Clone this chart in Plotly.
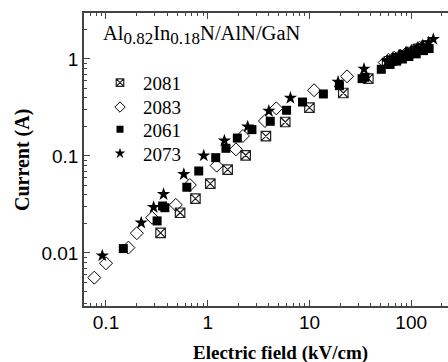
import plotly.graph_objects as go
import math

# Sample 2081 (crossed square)
x_2081 = [0.344, 0.535, 0.757, 1.06, 1.57, 2.36, 3.73, 5.78, 10.0, 21.5, 37.9,
          58, 64, 72, 85, 100, 118, 140]
y_2081 = [0.0161, 0.026, 0.0363, 0.0518, 0.0723, 0.1017, 0.16, 0.224, 0.315, 0.446, 0.627,
          0.90, 0.96, 1.02, 1.10, 1.18, 1.27, 1.37]

# Sample 2083 (open diamond)
x_2083 = [0.0768, 0.1, 0.166, 0.201, 0.284, 0.486, 0.667, 1.225, 1.894, 2.22, 3.65, 4.72, 11.1, 23.4,
          55, 60, 68, 78, 90, 105, 120]
y_2083 = [0.00556, 0.00783, 0.01135, 0.016, 0.0231, 0.0313, 0.0502, 0.0795, 0.117, 0.161, 0.2296, 0.31, 0.476, 0.663,
          0.92, 0.98, 1.03, 1.08, 1.15, 1.22, 1.30]

# Sample 2061 (filled square)
x_2061 = [0.148, 0.318, 0.36, 0.379, 0.623, 0.816, 1.198, 1.51, 1.955, 2.72, 4.12, 5.96, 8.54, 13.7, 19.7,
          32.9, 35.1, 50.8, 62, 72, 82, 95, 112, 132, 150]
y_2061 = [0.0111, 0.0214, 0.0305, 0.0293, 0.0476, 0.070, 0.0961, 0.12, 0.153, 0.187, 0.228, 0.296, 0.36, 0.436, 0.531,
          0.627, 0.648, 0.783, 0.88, 0.95, 1.00, 1.06, 1.13, 1.22, 1.28]

# Sample 2073 (star)
x_2073 = [0.092, 0.222, 0.294, 0.368, 0.582, 0.914, 1.458, 2.47, 3.99, 6.5, 19.1, 34.4,
          58, 66, 76, 88, 100, 115, 130, 148, 165]
y_2073 = [0.00938, 0.0205, 0.0296, 0.0403, 0.0648, 0.1007, 0.144, 0.2005, 0.291, 0.396, 0.579, 0.789,
          0.95, 1.02, 1.08, 1.15, 1.22, 1.30, 1.38, 1.48, 1.60]

series_names = ["2081", "2083", "2061", "2073"]

SERIF = "Liberation Serif"
SANS = "Liberation Sans"

# plot area in pixels
L, R, T, B = 84, 448, 13, 306
W, H = R - L, B - T


def px_x(p):
    return (p - L) / W


def px_y(p):
    return (B - p) / H


styles = {
    "2081": dict(symbol="square-x-open", color="#222", line=dict(width=1.2, color="#222")),
    "2083": dict(symbol="diamond-open", color="black", line=dict(width=1, color="black")),
    "2061": dict(symbol="square", color="black", line=dict(width=0)),
    "2073": dict(symbol="star", color="black", line=dict(width=0)),
}
plot_sizes = {"2081": 9.5, "2083": 10, "2061": 9, "2073": 10}
legend_sizes = {"2081": 7.5, "2083": 8, "2061": 7, "2073": 8}
data = {"2081": (x_2081, y_2081), "2083": (x_2083, y_2083),
        "2061": (x_2061, y_2061), "2073": (x_2073, y_2073)}
legend_ids = {"2081": "legend", "2083": "legend2", "2061": "legend3", "2073": "legend4"}
legend_centers = {"2081": 82.3, "2083": 106.7, "2061": 128.8, "2073": 153.0}

fig = go.Figure()
for name in series_names:
    xs, ys = data[name]
    fig.add_trace(go.Scatter(x=xs, y=ys, mode="markers", name=name, showlegend=False,
                             legendgroup=name,
                             marker=dict(size=plot_sizes[name], **styles[name])))
# legend entries with smaller symbols, as in the reference
for name in series_names:
    fig.add_trace(go.Scatter(x=[None], y=[None], mode="markers", name=name, showlegend=True,
                             legendgroup=name, legend=legend_ids[name],
                             marker=dict(size=legend_sizes[name], **styles[name])))

axis_common = dict(
    type="log", dtick=1, ticks="inside", ticklen=6, tickwidth=1, tickcolor="#444",
    showline=True, linecolor="#444", linewidth=1.5,
    showgrid=False, zeroline=False, automargin=False,
    tickfont=dict(family=SANS, size=19, color="black"),
    minor=dict(ticks="inside", ticklen=3, tickcolor="#444", dtick="D1", showgrid=False),
)

fig.update_xaxes(**axis_common, mirror="ticks", ticklabelstandoff=-2,
                 range=[math.log10(0.0608), math.log10(230)])
fig.update_yaxes(**axis_common, mirror=False,
                 range=[math.log10(0.00284), math.log10(2.98)])

# axis titles
fig.add_annotation(text="<b>Electric field (kV/cm)</b>", xref="paper", yref="paper",
                   x=px_x(280), y=px_y(353), xanchor="center", yanchor="middle",
                   showarrow=False, font=dict(family=SERIF, size=19, color="black"))
fig.add_annotation(text="<b>Current (A)</b>", xref="paper", yref="paper",
                   x=px_x(22), y=px_y(160), xanchor="center", yanchor="middle",
                   textangle=-90, showarrow=False, font=dict(family=SERIF, size=20, color="black"))

fig.add_annotation(text='Al<sub><span style="font-size:17px">0.82</span></sub>'
                        'In<sub><span style="font-size:17px">0.18</span></sub>N/AlN/GaN',
                   xref="paper", yref="paper", x=px_x(101), y=px_y(35),
                   xanchor="left", yanchor="middle", showarrow=False,
                   font=dict(family=SERIF, size=20.5, color="black"))

legend_common = dict(xanchor="left", yanchor="top", bgcolor="rgba(0,0,0,0)", borderwidth=0,
                     font=dict(family=SERIF, size=19, color="black"),
                     itemsizing="trace", itemwidth=36)
layout_legends = {}
for name in series_names:
    layout_legends[legend_ids[name]] = dict(legend_common, x=px_x(97),
                                            y=px_y(legend_centers[name] - 18.5))

fig.update_layout(
    width=448, height=362,
    margin=dict(l=L, r=448 - R, t=T, b=362 - B),
    paper_bgcolor="white", plot_bgcolor="white",
    showlegend=True,
    **layout_legends,
)

fig.write_html("out.html", config={"displayModeBar": False},
               post_script="document.body.style.margin='0';document.body.style.overflow='hidden';")
